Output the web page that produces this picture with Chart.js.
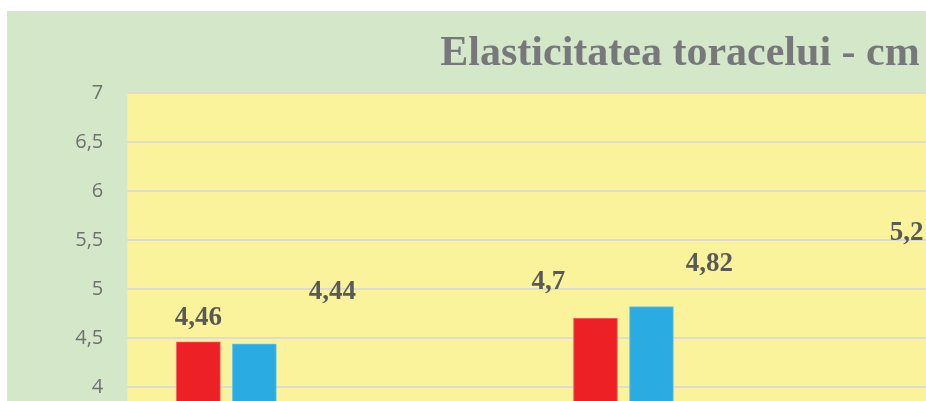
<!DOCTYPE html>
<html>
<head>
<meta charset="utf-8">
<script src="https://cdn.jsdelivr.net/npm/chart.js@4.4.0/dist/chart.umd.min.js"></script>
<style>
    html, body { margin: 0; padding: 0; background: #ffffff; overflow: hidden; }
    #wrap { position: absolute; left: 7px; top: 11px; width: 1346px; height: 817px; background: #d4e7c9; }
</style>
</head>
<body>
<div id="wrap"><canvas id="elasticitateChart" width="1346" height="817"></canvas></div>
<script>
// date
const categorii = ["Testarea I", "Testarea II", "Testarea III"];
const serieRosie = [4.46, 4.7, 5.2];
const serieAlbastra = [4.44, 4.82, 5.3];
const yTicks = [0, 0.5, 1, 1.5, 2, 2.5, 3, 3.5, 4, 4.5, 5, 5.5, 6, 6.5, 7];

// pozitia barelor in interiorul categoriei (fractiune din latimea categoriei)
const pozRosu = 0.179;
const pozAlbastru = 0.320;

// etichetele au fost mutate manual in original: [dx, dy] fata de varful barei
const offsetRosu = [[0, -17], [-47, -29], [-86, -29]];
const offsetAlbastru = [[78, -45], [58, -36], [0, -17]];

const fmt = (v) => String(v).replace(".", ",");

const plotBackground = {
    id: "plotBackground",
    beforeDraw(chart) {
        const { ctx, chartArea } = chart;
        ctx.save();
        ctx.fillStyle = "#faf39c";
        ctx.fillRect(chartArea.left, chartArea.top, chartArea.right - chartArea.left, chartArea.bottom - chartArea.top);
        ctx.restore();
    },
};

const valueLabels = {
    id: "valueLabels",
    afterDatasetsDraw(chart) {
        const ctx = chart.ctx;
        ctx.save();
        ctx.font = "bold 27px 'Liberation Serif', 'Times New Roman', serif";
        ctx.fillStyle = "#595959";
        ctx.textAlign = "center";
        ctx.textBaseline = "alphabetic";
        const offsets = [offsetRosu, offsetAlbastru];
        chart.data.datasets.forEach((ds, di) => {
            chart.getDatasetMeta(di).data.forEach((bar, i) => {
                const [dx, dy] = offsets[di][i];
                ctx.fillText(fmt(ds.data[i].y), bar.x + dx, bar.y + dy);
            });
        });
        ctx.restore();
    },
};

new Chart(document.getElementById("elasticitateChart").getContext("2d"), {
    type: "bar",
    data: {
        datasets: [
            {
                label: "Rosu",
                data: serieRosie.map((v, i) => ({ x: i + pozRosu, y: v })),
                backgroundColor: "#ed2026",
                borderColor: "#f2575b",
                borderWidth: 1,
                borderSkipped: "bottom",
                barThickness: 44,
                grouped: false,
            },
            {
                label: "Albastru",
                data: serieAlbastra.map((v, i) => ({ x: i + pozAlbastru, y: v })),
                backgroundColor: "#2aace3",
                borderColor: "#62c2ea",
                borderWidth: 1,
                borderSkipped: "bottom",
                barThickness: 44,
                grouped: false,
            },
        ],
    },
    options: {
        responsive: false,
        animation: false,
        devicePixelRatio: 1,
        layout: { padding: { left: 34.4, right: 34.4, top: 0, bottom: 0 } },
        scales: {
            x: {
                type: "linear",
                min: 0,
                max: 3,
                offset: false,
                grid: { display: false },
                border: { display: false },
                afterBuildTicks: (scale) => {
                    scale.ticks = categorii.map((c, i) => ({ value: i + 0.5 }));
                },
                afterFit: (scale) => { scale.height = 50; },
                ticks: {
                    callback: (v) => categorii[Math.floor(v)],
                    font: { family: "'Open Sans'", size: 20 },
                    color: "#707070",
                },
            },
            y: {
                min: 0,
                max: 7,
                afterBuildTicks: (scale) => {
                    scale.ticks = yTicks.map((v) => ({ value: v }));
                },
                afterFit: (scale) => { scale.width = 85.9; },
                grid: { color: "#dedbd0", lineWidth: 2, drawTicks: false },
                border: { display: false },
                ticks: {
                    padding: 24,
                    callback: (v) => fmt(v),
                    font: { family: "'Open Sans'", size: 20 },
                    color: "#707070",
                },
            },
        },
        plugins: {
            legend: { display: false },
            tooltip: { enabled: false },
            title: {
                display: true,
                text: "Elasticitatea toracelui - cm",
                color: "#77787b",
                font: { family: "'Liberation Serif'", size: 42, weight: "bold", lineHeight: 1.2 },
                padding: { top: 18, bottom: 14 },
            },
        },
    },
    plugins: [plotBackground, valueLabels],
});
</script>
</body>
</html>
